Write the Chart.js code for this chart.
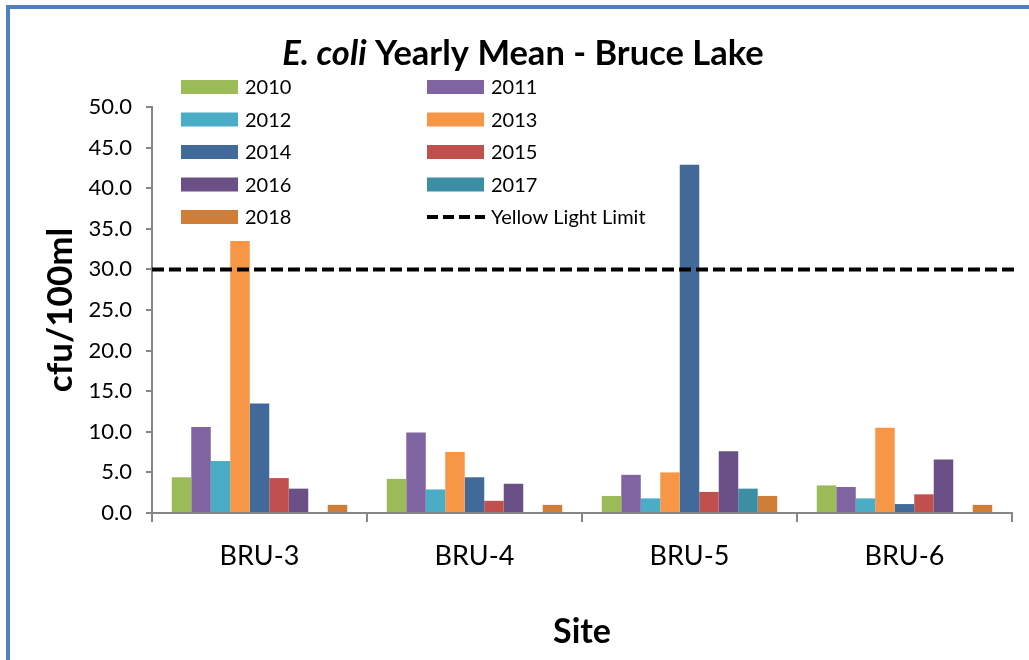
<!DOCTYPE html>
<html>
<head>
<meta charset="utf-8">
<script src="https://cdn.jsdelivr.net/npm/chart.js@4.4.1/dist/chart.umd.min.js"></script>
<style>
  html, body { margin: 0; padding: 0; background: #fff; }
  #wrap { position: relative; width: 1029px; height: 660px; overflow: hidden; }
  #frame { position: absolute; left: 6px; top: 5px; right: -10px; bottom: -10px;
           border-top: 4px solid #4F81BD; border-left: 4px solid #4F81BD; pointer-events: none; }
  canvas { position: absolute; left: 0; top: 0; }
</style>
</head>
<body>
<div id="wrap">
  <canvas id="c" width="1029" height="660"></canvas>
  <div id="frame"></div>
</div>
<script>
// ---------- data ----------
const sites = ['BRU-3', 'BRU-4', 'BRU-5', 'BRU-6'];
const years = ['2010', '2011', '2012', '2013', '2014', '2015', '2016', '2017', '2018'];
const v2010 = [4.4, 4.2, 2.1, 3.4];
const v2011 = [10.6, 9.9, 4.7, 3.2];
const v2012 = [6.4, 2.9, 1.8, 1.8];
const v2013 = [33.5, 7.5, 5.0, 10.5];
const v2014 = [13.5, 4.4, 42.9, 1.1];
const v2015 = [4.3, 1.5, 2.6, 2.3];
const v2016 = [3.0, 3.6, 7.6, 6.6];
const v2017 = [null, null, 3.0, null];
const v2018 = [1.0, 1.0, 2.1, 1.0];
const yellowLightLimit = 30;
const limitLabel = 'Yellow Light Limit';
const yTicks = [0, 5, 10, 15, 20, 25, 30, 35, 40, 45, 50];

const seriesValues = [v2010, v2011, v2012, v2013, v2014, v2015, v2016, v2017, v2018];
const seriesColors = ['#9BBB59', '#8064A2', '#4BACC6', '#F79646', '#416A9B', '#C0504D', '#6A5086', '#3C8EA5', '#D07D38'];

const FONT = 'Lato, "Open Sans", sans-serif';

const datasets = years.map((y, i) => ({
  label: y,
  data: seriesValues[i],
  backgroundColor: seriesColors[i],
  borderWidth: 0,
  categoryPercentage: 0.816,
  barPercentage: 1.0
}));

// dashed limit line, positioned through the y scale
const limitPlugin = {
  id: 'limitLine',
  afterDatasetsDraw(chart) {
    const ctx = chart.ctx, y = chart.scales.y.getPixelForValue(yellowLightLimit);
    const a = chart.chartArea;
    ctx.save();
    ctx.strokeStyle = '#000';
    ctx.lineWidth = 4;
    ctx.setLineDash([12, 5]);
    ctx.beginPath(); ctx.moveTo(a.left, y); ctx.lineTo(a.right + 4, y); ctx.stroke();
    ctx.restore();
  }
};

// title with italic part
const titlePlugin = {
  id: 'mixedTitle',
  afterDraw(chart) {
    const ctx = chart.ctx;
    ctx.save();
    const f1 = 'italic bold 34.5px ' + FONT;
    const f2 = 'bold 34.5px ' + FONT;
    const t1 = 'E. coli';
    const t2 = ' Yearly Mean - Bruce Lake';
    ctx.font = f1; const w1 = ctx.measureText(t1).width;
    ctx.font = f2; const w2 = ctx.measureText(t2).width;
    const cx = 523, base = 65;
    let x = cx - (w1 + w2) / 2;
    ctx.fillStyle = '#000';
    ctx.textBaseline = 'alphabetic';
    ctx.textAlign = 'left';
    ctx.font = f1; ctx.fillText(t1, x, base);
    ctx.font = f2; ctx.fillText(t2, x + w1, base);
    ctx.restore();
  }
};

// two-column legend inside the plot
const legendPlugin = {
  id: 'gridLegend',
  afterDraw(chart) {
    const ctx = chart.ctx;
    const items = chart.data.datasets.map(d => ({ label: d.label, color: d.backgroundColor }));
    items.push({ label: limitLabel, dashed: true });
    const colX = [181, 427];
    const rowY0 = 87, rowH = 32.5;
    ctx.save();
    ctx.font = '20px ' + FONT;
    ctx.textBaseline = 'middle';
    ctx.textAlign = 'left';
    items.forEach((d, i) => {
      const col = i % 2, row = Math.floor(i / 2);
      const x = colX[col], y = rowY0 + row * rowH;
      if (d.dashed) {
        ctx.strokeStyle = '#000';
        ctx.lineWidth = 4;
        ctx.setLineDash([11, 5]);
        ctx.beginPath(); ctx.moveTo(x, y); ctx.lineTo(x + 58, y); ctx.stroke();
        ctx.setLineDash([]);
      } else {
        ctx.fillStyle = d.color;
        ctx.fillRect(x, y - 7, 57, 14);
      }
      ctx.fillStyle = '#000';
      ctx.fillText(d.label, x + 64, y + 1);
    });
    ctx.restore();
  }
};

new Chart(document.getElementById('c'), {
  type: 'bar',
  data: { labels: sites, datasets },
  options: {
    responsive: false,
    animation: false,
    layout: { padding: { left: 0, top: 107, right: 17, bottom: 0 } },
    plugins: { legend: { display: false }, title: { display: false }, tooltip: { enabled: false } },
    scales: {
      x: {
        type: 'category',
        offset: true,
        grid: { display: true, drawOnChartArea: false, drawTicks: true, tickLength: 9, color: '#868686', lineWidth: 2, offset: true },
        border: { display: true, color: '#868686', width: 2 },
        ticks: { color: '#000', font: { family: FONT, size: 27 }, padding: 18, maxRotation: 0 },
        title: { display: true, text: 'Site', color: '#000', font: { family: FONT, size: 34, weight: 'bold' }, padding: { top: 0, bottom: 8 } },
        afterFit(s) { s.height = 147; }
      },
      y: {
        type: 'linear',
        min: 0, max: 50,
        afterBuildTicks(s) { s.ticks = yTicks.map(v => ({ value: v })); },
        grid: { display: true, drawOnChartArea: false, drawTicks: true, tickLength: 6, color: '#868686', lineWidth: 2 },
        border: { display: true, color: '#868686', width: 2 },
        ticks: { color: '#000', font: { family: FONT, size: 22 }, padding: 14, callback: v => Number(v).toFixed(1) },
        title: { display: true, text: 'cfu/100ml', color: '#000', font: { family: FONT, size: 35, weight: 'bold' }, padding: { top: 40, bottom: 0 } },
        afterFit(s) { s.width = 152; }
      }
    }
  },
  plugins: [limitPlugin, titlePlugin, legendPlugin]
});
</script>
</body>
</html>
